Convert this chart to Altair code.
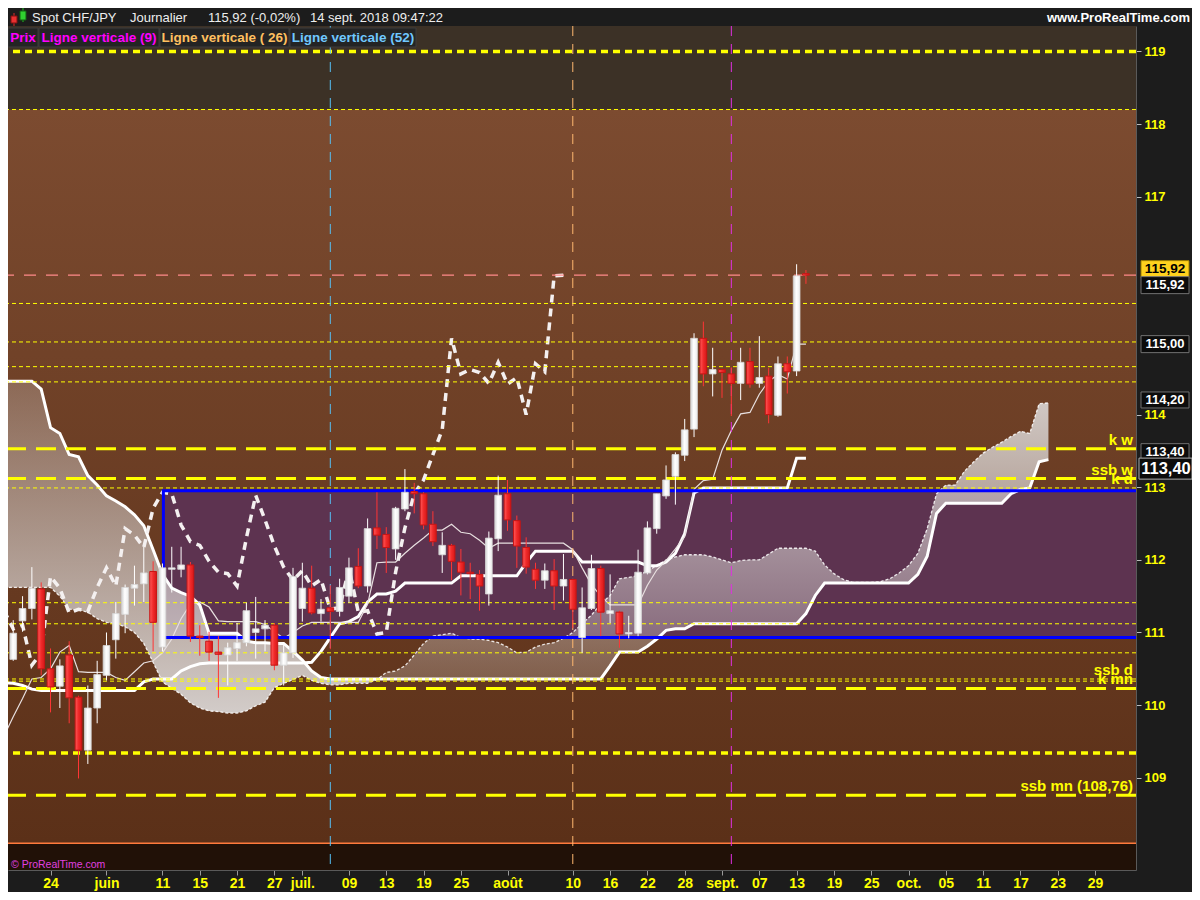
import altair as alt
import pandas as pd

# ---------------- geometry ----------------
W, H = 1128, 844
Y_MIN, Y_MAX = 107.73, 119.35
X_MIN, X_MAX = -4.56, 116.39
PPU = H / (Y_MAX - Y_MIN)
FONT = "Liberation Sans"
YEL = "#ffff00"

# ---------------- data ----------------
bar_index = list(range(-4, 82))
opens = [110.63, 111.16, 111.33, 111.60, 110.50, 110.26, 110.69, 110.11, 109.38, 109.96,
         110.41, 110.90, 111.25, 111.61, 111.67, 111.84, 110.80, 111.87, 111.87, 111.93,
         110.95, 110.88, 110.73, 110.69, 110.78, 110.86, 111.00, 111.05, 111.10, 110.55,
         110.72, 111.33, 111.61, 111.26, 111.34, 111.29, 111.50, 111.91, 111.64, 112.44,
         112.35, 112.15, 112.70, 112.94, 112.91, 112.49, 112.07, 112.20, 111.97, 111.83,
         111.80, 111.53, 112.29, 112.91, 112.54, 112.17, 111.87, 111.72, 111.85, 111.64,
         111.73, 110.93, 111.33, 111.88, 111.26, 111.28, 110.98, 110.99, 111.82, 112.43,
         112.88, 113.15, 113.44, 113.80, 115.05, 114.56, 114.62, 114.56, 114.43, 114.73,
         114.43, 114.53, 113.99, 114.70, 114.60, 115.94]
highs = [111.17, 111.50, 111.90, 111.69, 110.78, 110.63, 110.88, 110.13, 110.27, 110.61,
         111.00, 111.42, 111.66, 111.92, 112.18, 111.98, 111.95, 112.18, 112.18, 111.97,
         111.10, 111.01, 110.95, 110.86, 111.13, 111.41, 111.49, 111.17, 111.13, 110.86,
         111.89, 111.96, 111.92, 111.46, 111.65, 111.74, 112.03, 112.16, 112.57, 112.93,
         112.45, 112.73, 113.25, 113.06, 112.93, 112.67, 112.38, 112.22, 112.15, 111.96,
         111.86, 112.39, 113.16, 113.10, 112.61, 112.31, 111.96, 111.95, 112.01, 112.08,
         111.74, 111.62, 112.07, 111.92, 111.80, 111.30, 111.23, 112.14, 112.53, 112.91,
         113.30, 113.48, 113.94, 115.12, 115.28, 114.92, 114.63, 114.65, 114.92, 114.92,
         115.08, 114.64, 114.80, 114.80, 116.07, 115.99]
lows = [110.61, 111.01, 111.18, 110.41, 109.90, 109.96, 109.75, 108.99, 109.19, 109.75,
        110.34, 110.64, 110.99, 111.37, 111.42, 110.74, 110.74, 111.55, 111.76, 110.87,
        110.68, 110.61, 110.10, 110.27, 110.61, 110.81, 110.64, 110.74, 110.48, 110.27,
        110.65, 111.15, 111.25, 111.15, 110.77, 111.22, 111.41, 111.61, 111.55, 112.15,
        111.82, 112.00, 112.67, 112.64, 112.42, 112.19, 111.82, 111.72, 111.51, 111.46,
        111.30, 111.37, 112.12, 112.40, 111.89, 111.81, 111.60, 111.60, 111.31, 111.44,
        111.06, 110.72, 111.31, 110.95, 111.13, 110.79, 110.92, 110.95, 111.80, 112.36,
        112.84, 112.76, 113.36, 113.69, 114.39, 114.25, 114.23, 113.98, 114.20, 114.37,
        114.37, 113.88, 113.97, 114.29, 114.53, 115.80]
closes = [110.99, 111.33, 111.61, 110.50, 110.25, 110.54, 110.10, 109.38, 109.96, 110.42,
          110.82, 111.26, 111.62, 111.66, 111.82, 111.14, 111.89, 111.89, 111.93, 110.95,
          110.93, 110.73, 110.70, 110.79, 110.86, 111.30, 111.05, 111.10, 110.55, 110.72,
          111.77, 111.61, 111.27, 111.32, 111.29, 111.62, 111.89, 111.64, 112.43, 112.34,
          112.17, 112.71, 112.93, 112.91, 112.48, 112.25, 112.20, 111.98, 111.83, 111.81,
          111.64, 112.30, 112.89, 112.55, 112.19, 111.90, 111.72, 111.85, 111.64, 111.73,
          111.32, 111.34, 111.88, 111.28, 111.30, 110.98, 111.00, 111.83, 112.44, 112.91,
          113.10, 113.45, 113.79, 115.05, 114.56, 114.62, 114.58, 114.43, 114.72, 114.42,
          114.51, 114.00, 114.70, 114.59, 115.91, 115.92]

ichi_index = list(range(-5, 82))
tenkan = [109.57, 109.84, 110.09, 110.36, 110.38,
          110.50, 110.73, 110.82, 110.46, 110.45, 110.45, 110.45, 110.38, 110.34, 110.46,
          110.58, 110.61, 110.72, 110.91, 111.19, 111.39, 111.42, 111.35, 111.16, 111.15,
          111.15, 111.15, 111.15, 111.11, 111.01, 110.92, 111.00, 111.09, 111.14, 111.14,
          111.14, 111.14, 111.14, 111.14, 111.39, 111.96, 111.97, 111.97, 112.09, 112.20,
          112.30, 112.41, 112.41, 112.49, 112.38, 112.36, 112.27, 112.16, 112.23, 112.23,
          112.23, 112.23, 112.23, 112.23, 112.23, 112.23, 112.14, 111.89, 111.66, 111.50,
          111.38, 111.38, 111.38, 111.38, 111.65, 111.86, 111.99, 112.15, 112.32, 112.97,
          113.09, 113.11, 113.51, 113.78, 114.01, 114.03, 114.28, 114.46, 114.55, 114.49,
          114.97, 114.97]
kijun = [110.31, 110.30, 110.27, 110.22, 110.20,
         110.20, 110.20, 110.20, 110.20, 110.20, 110.20, 110.20, 110.20, 110.20, 110.20,
         110.32, 110.36, 110.36, 110.36, 110.47, 110.53, 110.57, 110.58, 110.58, 110.58,
         110.58, 110.58, 110.58, 110.58, 110.58, 110.58, 110.58, 110.58, 110.59, 110.74,
         110.93, 111.12, 111.15, 111.22, 111.42, 111.53, 111.53, 111.57, 111.68, 111.68,
         111.68, 111.68, 111.68, 111.68, 111.78, 111.78, 111.78, 111.78, 111.78, 111.78,
         111.78, 111.96, 112.12, 112.12, 112.12, 112.12, 112.12, 111.97, 111.97, 111.97,
         111.97, 111.97, 111.97, 111.97, 111.92, 111.92, 111.97, 112.09, 112.36, 112.92,
         112.99, 112.99, 112.99, 112.99, 112.99, 112.99, 112.99, 112.99, 112.99, 112.99,
         113.40, 113.40]

cloud_index = list(range(-5, 108))
ssa = [111.62, 111.62, 111.62, 111.62, 111.62,
       111.62, 111.50, 111.32, 111.31, 111.28, 111.19, 111.14, 111.12, 111.08, 111.00,
       110.85, 110.59, 110.32, 110.23, 110.15, 110.03, 109.96, 109.92, 109.91, 109.89,
       109.89, 109.92, 109.99, 110.04, 110.24, 110.30, 110.35, 110.41, 110.34, 110.30,
       110.28, 110.28, 110.30, 110.30, 110.30, 110.35, 110.45, 110.47, 110.54, 110.69,
       110.85, 110.95, 110.97, 110.99, 110.93, 110.91, 110.91, 110.89, 110.86, 110.80,
       110.72, 110.73, 110.80, 110.84, 110.86, 110.92, 111.00, 111.12, 111.24, 111.39,
       111.51, 111.74, 111.76, 111.78, 111.85, 111.92, 112.00, 112.04, 112.07, 112.07,
       112.07, 112.04, 112.00, 111.96, 111.99, 112.00, 112.00, 112.08, 112.16, 112.16,
       112.16, 112.16, 112.12, 111.93, 111.81, 111.73, 111.69, 111.69, 111.69, 111.70,
       111.74, 111.82, 111.92, 112.09, 112.43, 112.91, 113.03, 113.03, 113.22, 113.35,
       113.47, 113.55, 113.62, 113.70, 113.77, 113.74, 114.15, 114.16]
ssb = [114.46, 114.46, 114.46, 114.46, 114.35,
       113.82, 113.74, 113.45, 113.42, 113.16, 113.03, 112.88, 112.81, 112.73, 112.62,
       112.47, 112.14, 111.80, 111.61, 111.55, 111.50, 111.38, 110.99, 110.99, 110.99,
       110.99, 110.88, 110.86, 110.86, 110.85, 110.85, 110.74, 110.62, 110.47, 110.38,
       110.36, 110.36, 110.36, 110.36, 110.36, 110.36, 110.36, 110.36, 110.36, 110.36,
       110.36, 110.36, 110.36, 110.36, 110.36, 110.36, 110.36, 110.36, 110.36, 110.36,
       110.36, 110.36, 110.36, 110.36, 110.36, 110.36, 110.36, 110.36, 110.36, 110.36,
       110.54, 110.73, 110.73, 110.73, 110.81, 110.91, 111.03, 111.05, 111.05, 111.12,
       111.12, 111.12, 111.12, 111.12, 111.12, 111.12, 111.12, 111.12, 111.12, 111.12,
       111.12, 111.26, 111.51, 111.68, 111.68, 111.68, 111.68, 111.68, 111.68, 111.68,
       111.68, 111.68, 111.68, 111.80, 112.05, 112.64, 112.78, 112.78, 112.78, 112.78,
       112.78, 112.78, 112.78, 112.91, 112.97, 112.99, 113.35, 113.38]

tick_pos = [0, 6, 12, 16, 20, 24, 27, 32, 36, 40, 44, 49, 56, 60, 64, 68, 72, 76, 80,
            84, 88, 92, 96, 100, 104, 108, 112]
tick_text = ["24", "juin", "11", "15", "21", "27", "juil.", "09", "13", "19", "25", "août",
             "10", "16", "22", "28", "sept.", "07", "13", "19", "25", "oct.", "05", "11",
             "17", "23", "29"]
y_ticks = [109, 110, 111, 112, 113, 114, 117, 118, 119]

zone_top, zone_bottom = 118.20, 108.10
range_start, range_top, range_bottom = 12.1, 112.95, 110.93

long_dash_levels = [113.53, 113.12, 110.23, 108.76]
short_dash_levels = [119.00, 109.34]
thin_levels = [118.20, 115.53, 115.00, 114.66, 114.45, 112.99, 111.41, 111.12, 110.72, 110.36, 110.33]
last_price = 115.92

level_names = ["k w", "ssb w", "k d", "ssb d", "k mn", "ssb mn (108,76)"]
level_values = [113.53, 113.12, 112.99, 110.36, 110.23, 108.76]

vline_blue, vline_orange, vline_magenta = 30, 56, 73

tag_text = ["115,92", "115,92", "115,00", "114,20", "113,40", "113,40"]
tag_value = [115.92, 115.92, 114.97, 114.16, 113.40, 113.38]

# ---------------- tables ----------------
candles = pd.DataFrame({"i": bar_index, "o": opens, "h": highs, "l": lows, "c": closes})
ichi = pd.DataFrame({"i": ichi_index, "tenkan": tenkan, "kijun": kijun})
cloud = pd.DataFrame({"i": cloud_index, "ssa": ssa, "ssb": ssb})
chikou = pd.DataFrame({"i": [i - 26 for i in bar_index], "v": closes})
chikou = chikou[chikou["i"] >= -5]

tag_shift = [-6, 10, 0, -3, -6, 9]
tags = pd.DataFrame({"t": tag_text, "v": tag_value})
tags["yc"] = [v - s / PPU for v, s in zip(tag_value, tag_shift)]
half = [8.5, 8.5, 8.5, 8.0, 8.5, 10.5]
tags["top"] = [y + h / PPU for y, h in zip(tags["yc"], half)]
tags["bot"] = [y - h / PPU for y, h in zip(tags["yc"], half)]

# ---------------- scales & axes ----------------
xs = alt.Scale(domain=[X_MIN, X_MAX], nice=False, zero=False)
ys = alt.Scale(domain=[Y_MIN, Y_MAX], nice=False, zero=False)

expr = " : ".join(f"datum.value == {p} ? '{t}'" for p, t in zip(tick_pos, tick_text)) + " : ''"
x_axis = alt.Axis(orient="bottom", values=tick_pos, labelExpr=expr, labelColor=YEL, labelFont=FONT,
                  labelFontSize=14, labelFontWeight="bold", tickColor="#9a9a9a", tickSize=5,
                  domainColor="#5a5a5a", grid=False, title=None, labelPadding=1,
                  labelOverlap=False, labelFlush=False)
y_axis = alt.Axis(orient="right", values=y_ticks, format="d", labelColor=YEL, labelFont=FONT,
                  labelFontSize=13, labelFontWeight="bold", tickColor="#bbbbbb", tickSize=5,
                  domainColor="#5a5a5a", grid=False, title=None, labelPadding=3)


def X(f):
    return alt.X(f, type="quantitative", scale=xs, axis=x_axis)


def Y(f):
    return alt.Y(f, type="quantitative", scale=ys, axis=y_axis)


one = pd.DataFrame({"a": [0]})


def grad(stops, horizontal=False):
    if horizontal:
        return alt.Gradient(gradient="linear", x1=0, x2=1, y1=0, y2=0,
                            stops=[alt.GradientStop(offset=o, color=c) for o, c in stops])
    return alt.Gradient(gradient="linear", x1=0, x2=0, y1=0, y2=1,
                        stops=[alt.GradientStop(offset=o, color=c) for o, c in stops])


layers = []

# axes carrier
layers.append(alt.Chart(pd.DataFrame({"i": [X_MIN, X_MAX], "v": [Y_MIN, Y_MAX]}))
              .mark_point(opacity=0).encode(x=X("i"), y=Y("v")))

# backgrounds
layers.append(alt.Chart(pd.DataFrame({"t": [Y_MAX], "b": [zone_top]})).mark_rect(fill="#3c3126")
              .encode(x=alt.value(0), x2=alt.value(W), y=Y("t"), y2=alt.Y2("b")))
layers.append(alt.Chart(pd.DataFrame({"t": [zone_top], "b": [zone_bottom]}))
              .mark_rect(fill=grad([(0, "#7c4b30"), (1, "#5b3018")]))
              .encode(x=alt.value(0), x2=alt.value(W), y=Y("t"), y2=alt.Y2("b")))
layers.append(alt.Chart(pd.DataFrame({"t": [zone_bottom], "b": [Y_MIN]})).mark_rect(fill="#211107")
              .encode(x=alt.value(0), x2=alt.value(W), y=Y("t"), y2=alt.Y2("b")))

# range box fill
rng = pd.DataFrame({"x0": [range_start], "t": [range_top], "b": [range_bottom]})
layers.append(alt.Chart(rng).mark_rect(fill="#5d3350", clip=True)
              .encode(x=X("x0"), x2=alt.value(W + 20), y=Y("t"), y2=alt.Y2("b")))

# cloud
layers.append(alt.Chart(cloud).transform_filter("datum.i <= 35")
              .mark_area(clip=True, fill=grad([(0, "rgba(215,210,208,0.28)"), (1, "rgba(215,210,208,0.96)")]))
              .encode(x=X("i"), y=Y("ssa"), y2=alt.Y2("ssb")))
layers.append(alt.Chart(cloud).transform_filter("datum.i >= 35")
              .mark_area(clip=True, fill=grad([(0, "rgba(215,210,208,0.93)"), (1, "rgba(215,210,208,0.26)")]))
              .encode(x=X("i"), y=Y("ssa"), y2=alt.Y2("ssb")))

# ichimoku lines
layers.append(alt.Chart(cloud).mark_line(clip=True, color="#ffffff", strokeWidth=1.3,
                                         strokeDash=[3, 2], opacity=0.85)
              .encode(x=X("i"), y=Y("ssa")))
layers.append(alt.Chart(cloud).mark_line(clip=True, color="#ffffff", strokeWidth=3)
              .encode(x=X("i"), y=Y("ssb")))
layers.append(alt.Chart(ichi).mark_line(clip=True, color="#ffffff", strokeWidth=3)
              .encode(x=X("i"), y=Y("kijun")))
layers.append(alt.Chart(ichi).mark_line(clip=True, color="#e8e0e0", strokeWidth=1.2)
              .encode(x=X("i"), y=Y("tenkan")))
layers.append(alt.Chart(chikou).mark_line(clip=True, color="#f4f0f0", strokeWidth=3.5,
                                          strokeDash=[8, 6])
              .encode(x=X("i"), y=Y("v")))

# horizontal levels
layers.append(alt.Chart(pd.DataFrame({"v": thin_levels}))
              .mark_rule(color=YEL, strokeWidth=1, strokeDash=[4, 3]).encode(y=Y("v")))
layers.append(alt.Chart(pd.DataFrame({"v": long_dash_levels}))
              .mark_rule(color=YEL, strokeWidth=3, strokeDash=[20, 10]).encode(y=Y("v")))
layers.append(alt.Chart(pd.DataFrame({"v": short_dash_levels}))
              .mark_rule(color=YEL, strokeWidth=3.5, strokeDash=[7, 5]).encode(y=Y("v")))
layers.append(alt.Chart(pd.DataFrame({"v": [last_price]}))
              .mark_rule(color="#ff8a8a", strokeWidth=1.2, strokeDash=[12, 10]).encode(y=Y("v")))
layers.append(alt.Chart(pd.DataFrame({"v": [zone_bottom]}))
              .mark_rule(color="#ff7a3c", strokeWidth=1.5).encode(y=Y("v")))

# vertical lines
for vi, col in [(vline_blue, "#55c0f5"), (vline_orange, "#ffb870"), (vline_magenta, "#e030e0")]:
    layers.append(alt.Chart(pd.DataFrame({"i": [vi]}))
                  .mark_rule(color=col, strokeWidth=1, strokeDash=[10, 8]).encode(x=X("i")))

# range box border
layers.append(alt.Chart(rng).mark_rect(fillOpacity=0, stroke="#0000ff", strokeWidth=3, clip=True)
              .encode(x=X("x0"), x2=alt.value(W + 20), y=Y("t"), y2=alt.Y2("b")))

# candles
up = "datum.c >= datum.o"
dn = "datum.c < datum.o"
layers.append(alt.Chart(candles).transform_filter(up)
              .mark_rule(color="#ffffff", strokeWidth=1, clip=True)
              .encode(x=X("i"), y=Y("l"), y2=alt.Y2("h")))
layers.append(alt.Chart(candles).transform_filter(dn)
              .mark_rule(color="#ff3535", strokeWidth=1, clip=True)
              .encode(x=X("i"), y=Y("l"), y2=alt.Y2("h")))
layers.append(alt.Chart(candles).transform_filter(up)
              .transform_calculate(x0="datum.i - 0.36", x1="datum.i + 0.36")
              .mark_rect(fill=grad([(0, "#d4d4d4"), (0.45, "#ffffff"), (1, "#ececec")], True),
                         stroke="#d8d8d8", strokeWidth=0.8, clip=True)
              .encode(x=X("x0"), x2=alt.X2("x1"), y=Y("o"), y2=alt.Y2("c")))
layers.append(alt.Chart(candles).transform_filter(dn)
              .transform_calculate(x0="datum.i - 0.36", x1="datum.i + 0.36")
              .mark_rect(fill=grad([(0, "#ff5a5a"), (0.5, "#f02a2a"), (1, "#d41818")], True),
                         stroke="#c81414", strokeWidth=1, clip=True)
              .encode(x=X("x0"), x2=alt.X2("x1"), y=Y("o"), y2=alt.Y2("c")))

# level labels
layers.append(alt.Chart(pd.DataFrame({"t": level_names, "v": level_values}))
              .mark_text(align="right", baseline="alphabetic", dy=-4, font=FONT, fontSize=15,
                         fontWeight="bold", color=YEL)
              .encode(x=alt.value(W - 3), y=Y("v"), text="t:N"))

# price tags on the right axis
small = tags.iloc[1:5]
layers.append(alt.Chart(tags.iloc[[0]]).mark_rect(fill="#ffd21e", stroke="#a08000", strokeWidth=1)
              .encode(x=alt.value(W + 5), x2=alt.value(W + 53), y=Y("top"), y2=alt.Y2("bot")))
layers.append(alt.Chart(small).mark_rect(fill="#0c0c0c", stroke="#707070", strokeWidth=1)
              .encode(x=alt.value(W + 5), x2=alt.value(W + 53), y=Y("top"), y2=alt.Y2("bot")))
layers.append(alt.Chart(tags.iloc[[5]]).mark_rect(fill="#0c0c0c", stroke="#b0b0b0", strokeWidth=1)
              .encode(x=alt.value(W + 3), x2=alt.value(W + 56), y=Y("top"), y2=alt.Y2("bot")))
layers.append(alt.Chart(tags.iloc[[0]]).mark_text(font=FONT, fontSize=13.5, fontWeight="bold",
                                                  color="#000000", baseline="middle")
              .encode(x=alt.value(W + 29), y=Y("yc"), text="t:N"))
layers.append(alt.Chart(small).mark_text(font=FONT, fontSize=13, fontWeight="bold",
                                         color="#ffffff", baseline="middle")
              .encode(x=alt.value(W + 29), y=Y("yc"), text="t:N"))
layers.append(alt.Chart(tags.iloc[[5]]).mark_text(font=FONT, fontSize=16.5, fontWeight="bold",
                                                  color="#ffffff", baseline="middle")
              .encode(x=alt.value(W + 30), y=Y("yc"), text="t:N"))

# header bar
layers.append(alt.Chart(one).mark_rule(color="#e02828")
              .encode(x=alt.value(6), y=alt.value(-13), y2=alt.value(0)))
layers.append(alt.Chart(one).mark_rect(fill="#e83030", stroke="#801010")
              .encode(x=alt.value(3), x2=alt.value(9), y=alt.value(-10), y2=alt.value(-3)))
layers.append(alt.Chart(one).mark_rule(color="#20c020")
              .encode(x=alt.value(15), y=alt.value(-18), y2=alt.value(-4)))
layers.append(alt.Chart(one).mark_rect(fill="#30d030", stroke="#106010")
              .encode(x=alt.value(12), x2=alt.value(18), y=alt.value(-15), y2=alt.value(-6)))
for txt, px in [("Spot CHF/JPY", 24), ("Journalier", 122), ("115,92 (-0,02%)", 200),
                ("14 sept. 2018 09:47:22", 302)]:
    layers.append(alt.Chart(pd.DataFrame({"t": [txt]}))
                  .mark_text(align="left", baseline="middle", font=FONT, fontSize=13, color="#eeeeee")
                  .encode(x=alt.value(px), y=alt.value(-8), text="t:N"))
layers.append(alt.Chart(pd.DataFrame({"t": ["www.ProRealTime.com"]}))
              .mark_text(align="right", baseline="middle", font=FONT, fontSize=13, fontWeight="bold",
                         color="#ffffff")
              .encode(x=alt.value(W + 54), y=alt.value(-8), text="t:N"))

# indicator legend row
for txt, x0, x1, col in [("Prix", 0, 30, "#ff00ff"), ("Ligne verticale (9)", 31, 151, "#ff00ff"),
                         ("Ligne verticale ( 26)", 152, 281, "#ffc060"),
                         ("Ligne verticale (52)", 282, 408, "#70c8ff")]:
    layers.append(alt.Chart(one).mark_rect(fill="#242424", stroke="#3c3c3c", strokeWidth=1)
                  .encode(x=alt.value(x0), x2=alt.value(x1), y=alt.value(2), y2=alt.value(21)))
    layers.append(alt.Chart(pd.DataFrame({"t": [txt]}))
                  .mark_text(align="center", baseline="middle", font=FONT, fontSize=13.5,
                             fontWeight="bold", color=col)
                  .encode(x=alt.value((x0 + x1) / 2), y=alt.value(12), text="t:N"))

layers.append(alt.Chart(pd.DataFrame({"t": ["© ProRealTime.com"]}))
              .mark_text(align="left", baseline="middle", font=FONT, fontSize=10.5, color="#e040e0")
              .encode(x=alt.value(3), y=alt.value(H - 5), text="t:N"))

chart = (alt.layer(*layers)
         .properties(width=W, height=H, background="#1c1c1c",
                     padding={"left": 0, "top": 18, "right": 56, "bottom": 22},
                     autosize=alt.AutoSizeParams(type="none"))
         .configure_view(strokeWidth=0))

chart.save("out.html", embed_options={"renderer": "svg", "actions": False})
